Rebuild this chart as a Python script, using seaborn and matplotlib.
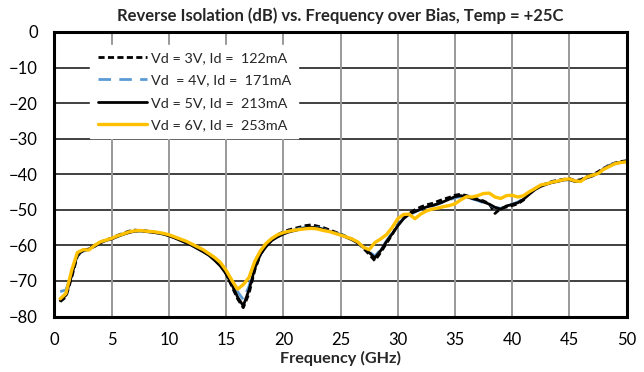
import numpy as np
import pandas as pd
import matplotlib
matplotlib.use("Agg")
import matplotlib.pyplot as plt
import seaborn as sns

# Frequency sweep points (GHz)
freq_ghz = np.arange(1, 101) * 0.5

# Reverse isolation S12 (dB) per bias condition
s12_3v = [
    -75.8, -74.5, -69.0, -63.0, -61.3, -61.0, -60.0, -59.2, -58.4, -58.0,
    -57.2, -56.6, -56.0, -55.7, -55.8, -55.9, -56.2, -56.4, -56.7, -57.2,
    -57.8, -58.4, -59.0, -59.9, -60.7, -61.6, -62.5, -63.8, -65.5, -68.0,
    -71.5, -75.0, -77.5, -73.5, -67.0, -62.5, -60.0, -58.2, -57.0, -56.2,
    -55.6, -55.2, -54.8, -54.4, -54.2, -54.6, -55.0, -55.6, -56.2, -56.8,
    -57.5, -58.2, -59.2, -60.8, -62.5, -64.3, -62.0, -59.5, -57.0, -54.2,
    -52.3, -51.0, -50.0, -49.2, -48.6, -48.2, -47.6, -47.0, -46.5, -45.9,
    -45.6, -46.0, -46.5, -47.0, -47.5, -48.3, -51.0, -49.6, -49.2, -48.8,
    -48.3, -47.2, -45.2, -44.0, -43.2, -42.6, -42.0, -41.7, -41.4, -41.2,
    -41.8, -41.5, -40.7, -40.2, -39.3, -38.3, -37.4, -36.8, -36.4, -36.2,
]
s12_4v = [
    -73.0, -72.5, -68.0, -62.5, -61.6, -61.1, -60.2, -59.1, -58.5, -58.1,
    -57.4, -56.8, -56.3, -56.0, -55.9, -56.0, -56.2, -56.5, -56.8, -57.2,
    -57.8, -58.5, -59.2, -60.0, -60.8, -61.6, -62.6, -64.0, -65.3, -67.2,
    -70.0, -73.0, -75.2, -71.5, -65.8, -62.0, -60.0, -58.4, -57.4, -56.6,
    -56.0, -55.6, -55.2, -54.9, -54.8, -55.0, -55.4, -55.9, -56.4, -56.9,
    -57.6, -58.3, -59.2, -60.6, -61.8, -63.0, -61.2, -58.8, -56.5, -54.3,
    -52.4, -51.4, -50.6, -49.9, -49.3, -48.9, -48.4, -47.8, -47.2, -46.6,
    -46.3, -46.5, -46.9, -47.4, -48.0, -48.6, -49.3, -49.6, -48.8, -48.4,
    -47.8, -46.8, -45.4, -44.2, -43.3, -42.7, -42.2, -41.9, -41.5, -41.4,
    -42.1, -41.9, -40.9, -40.4, -39.5, -38.4, -37.5, -36.9, -36.5, -36.3,
]
s12_5v = [
    -75.5, -74.0, -68.5, -62.5, -61.5, -61.0, -60.3, -59.3, -58.6, -58.2,
    -57.5, -56.9, -56.4, -56.0, -55.9, -56.1, -56.3, -56.5, -56.8, -57.3,
    -57.9, -58.6, -59.3, -60.0, -60.9, -61.8, -62.8, -64.2, -65.8, -68.0,
    -71.0, -74.5, -77.0, -72.5, -66.5, -62.5, -60.3, -58.6, -57.6, -56.8,
    -56.2, -55.8, -55.4, -55.0, -54.9, -55.1, -55.5, -56.0, -56.5, -57.0,
    -57.7, -58.4, -59.3, -60.5, -62.0, -63.5, -61.5, -59.0, -56.8, -54.5,
    -52.5, -51.2, -50.5, -49.8, -49.2, -48.8, -48.3, -47.7, -47.0, -46.3,
    -46.0, -46.3, -46.8, -47.2, -47.8, -48.4, -49.3, -49.8, -48.9, -48.5,
    -48.0, -47.0, -45.6, -44.3, -43.4, -42.8, -42.3, -42.0, -41.6, -41.5,
    -42.0, -41.8, -41.0, -40.5, -39.6, -38.5, -37.6, -37.0, -36.6, -36.3,
]
s12_6v = [
    -75.0, -73.5, -67.0, -62.0, -61.2, -61.3, -60.0, -59.0, -58.5, -58.0,
    -57.3, -56.8, -56.2, -55.9, -55.8, -56.0, -56.1, -56.3, -56.6, -57.0,
    -57.6, -58.2, -58.8, -59.6, -60.4, -61.2, -62.3, -63.4, -64.8, -67.0,
    -69.8, -72.3, -71.0, -69.0, -64.5, -61.5, -59.4, -58.0, -57.0, -56.4,
    -56.0, -55.7, -55.5, -55.3, -55.2, -55.4, -55.8, -56.1, -56.6, -57.1,
    -57.6, -58.2, -59.0, -60.5, -61.2, -59.2, -58.2, -57.0, -55.0, -52.5,
    -51.3, -51.2, -52.5, -51.2, -50.3, -49.8, -49.5, -49.1, -48.8, -48.3,
    -47.2, -46.3, -46.4, -46.0, -45.4, -45.3, -46.4, -46.8, -46.0, -45.9,
    -46.4, -46.0, -44.9, -44.0, -43.0, -42.7, -42.2, -41.9, -41.5, -41.3,
    -41.9, -42.0, -40.8, -40.3, -39.8, -38.6, -37.8, -37.0, -36.7, -36.5,
]

labels = [
    "Vd = 3V, Id =  122mA",
    "Vd  = 4V, Id =  171mA",
    "Vd = 5V, Id =  213mA",
    "Vd = 6V, Id =  253mA",
]
series = [s12_3v, s12_4v, s12_5v, s12_6v]
colors = ["#000000", "#5B9BD5", "#000000", "#FFC000"]
styles = [(0, (2.2, 1.2)), (0, (4.5, 3.0)), "-", "-"]
widths = [2.0, 2.0, 2.0, 2.4]

df = pd.concat(
    [pd.DataFrame({"freq": freq_ghz, "s12": vals, "bias": lab})
     for lab, vals in zip(labels, series)],
    ignore_index=True,
)

sns.set_theme(style="white")
plt.rcParams["font.family"] = ["Lato", "DejaVu Sans"]

fig = plt.figure(figsize=(6.44, 3.72), dpi=100)
ax = fig.add_axes([0.0846, 0.149, 0.8884, 0.765])

for lab, col, ls, lw in zip(labels, colors, styles, widths):
    sns.lineplot(data=df[df["bias"] == lab], x="freq", y="s12", ax=ax,
                 color=col, linestyle=ls, linewidth=lw, label=lab)

ax.set_xlim(0, 50)
ax.set_ylim(-80, 0)
ax.set_xticks(np.arange(0, 51, 5))
ax.set_yticks(np.arange(-80, 1, 10))

# Grid: dark horizontal lines, grey vertical lines
for y in np.arange(-70, 0, 10):
    ax.axhline(y, color="#404040", linewidth=1.4, zorder=0)
for x in np.arange(5, 50, 5):
    ax.axvline(x, color="#999999", linewidth=1.4, zorder=0)

for sp in ax.spines.values():
    sp.set_color("black")
    sp.set_linewidth(2.2)

ax.tick_params(axis="both", length=0, labelsize=12, colors="black")
ax.tick_params(axis="x", pad=11)
ax.tick_params(axis="y", pad=12)
ax.set_xlabel("Frequency (GHz)", fontsize=11.7, fontweight="bold", labelpad=2)
ax.set_ylabel("")
ax.set_title("Reverse Isolation (dB) vs. Frequency over Bias, Temp = +25C",
             fontsize=12, fontweight="bold", pad=8)

leg = ax.legend(loc="upper left", bbox_to_anchor=(0.05, 0.98), frameon=True,
                fontsize=10.4, handlelength=3.4, handletextpad=0.3,
                labelspacing=0.7, borderpad=0.5, fancybox=False)
leg.get_frame().set_edgecolor("white")
leg.get_frame().set_facecolor("white")
leg.get_frame().set_alpha(1.0)

fig.savefig("out.png", dpi=100)
